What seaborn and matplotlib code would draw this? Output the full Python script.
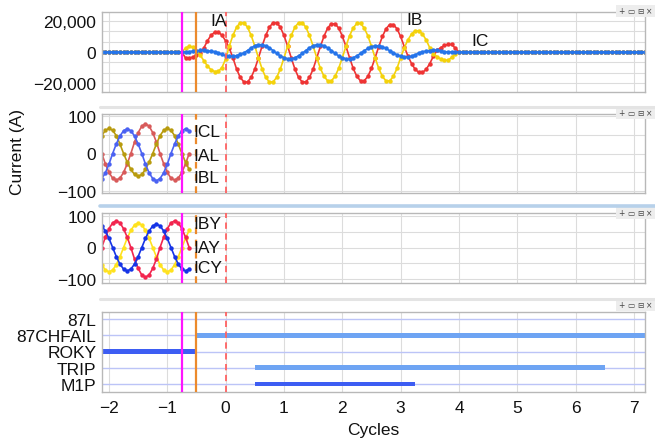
import numpy as np
import pandas as pd
import matplotlib
matplotlib.use("Agg")
import matplotlib.pyplot as plt
from matplotlib.lines import Line2D
from matplotlib.ticker import FuncFormatter, MultipleLocator
import seaborn as sns

# sampling of the event record (cycles)
SAMPLES_PER_CYCLE = 16
T_START = -2.125
N_SAMPLES = 150
FAULT_START = -0.75
X_RANGE = (-2.12, 7.19)

# event markers (cycles)
MARK_PICKUP = -0.75
MARK_ORANGE = -0.5
MARK_TRIGGER = 0.0

# local terminal currents during the fault window (A), one value per sample from FAULT_START
IA_FAULT = [
    0, -3900, -3900, -3300, -2200, -800,
    2500, 7200, 10800, 12750, 12750, 10800, 7200, 2500,
    -3800, -11000, -16400, -19300, -19300, -16400, -11000, -3800,
    3800, 10700, 16000, 18900, 18900, 16000, 10700, 3800,
    -3800, -11000, -16400, -19300, -19300, -16400, -11000, -3800,
    3600, 10300, 15500, 18200, 18200, 15500, 10300, 3600,
    -3700, -10600, -15800, -18600, -18600, -15800, -10600, -3700,
    3500, 10000, 15000, 17700, 17700, 15000, 10000, 3500,
    -2600, -7500, -11200, -13200, -13200, -11200, -7500, -2600,
    1000, 2800, 4200, 4900, 4900, 2500, 0,
]
IB_FAULT = [
    0, 2500, 3700, 3000, 800, -2000, -5500, -9000, -11500, -12600, -12400, -10000, -4500,
    3800, 10700, 16000, 18900, 18900, 16000, 10700, 3800,
    -3800, -11000, -16400, -19300, -19300, -16400, -11000, -3800,
    3800, 10700, 16000, 18900, 18900, 16000, 10700, 3800,
    -3700, -10600, -15800, -18600, -18600, -15800, -10600, -3700,
    3700, 10500, 15600, 18400, 18400, 15600, 10500, 3700,
    -3700, -10600, -15800, -18600, -18600, -15800, -10600, -3700,
    2700, 7800, 11600, 13700, 13700, 11600, 7800, 2700,
    -1000, -3000, -4500, -5300, -5300, -3500, -1200, 0,
]
IC_FAULT = [
    0, 0,
    200, 550, 800, 1000, 1000, 800, 550, 200,
    -550, -1600, -2300, -2750, -2750, -2300, -1600, -550,
    950, 2700, 4000, 4700, 4700, 4000, 2700, 950,
    -900, -2500, -3700, -4400, -4400, -3700, -2500, -900,
    950, 2700, 4000, 4700, 4700, 4000, 2700, 950,
    -900, -2500, -3700, -4400, -4400, -3700, -2500, -900,
    800, 2300, 3400, 4000, 4000, 3400, 2300, 800,
    -600, -1800, -2700, -3100, -3100, -2700, -1800, -600,
    200, 600, 900, 1100, 1100, 700, 300, 0, 0, 0, 0,
]

# channel L / channel Y currents, one value per sample from T_START
IAL = [0, -27, -50, -65, -70, -65, -50, -27, 0, 30, 55, 72, 78, 72, 55, 30,
       0, -27, -50, -65, -70, -65, -50, -27, 0]
IBL = [47, 61, 66, 61, 47, 25, 0, -23, -42, -55, -60, -55, -42, -23, 0, 25,
       47, 61, 66, 61, 47, 25, 0, -23, -42]
ICL = [-66, -51, -28, 0, 25, 46, 60, 65, 60, 46, 25, 0, -28, -51, -66, -72,
       -66, -51, -28, 0, 25, 46, 60, 65, 60]
IBY = [0, 33, 60, 79, 85, 79, 60, 33, 0, -37, -67, -88, -95, -88, -67, -37,
       0, 33, 60, 79, 85, 79, 60, 33, 0]
IAY = [-55, -72, -78, -72, -55, -30, 0, 30, 55, 72, 78, 72, 55, 30, 0, -30,
       -55, -72, -78, -72, -55, -30, 0, 30, 55]
ICY = [69, 53, 29, 0, -29, -53, -69, -75, -69, -53, -29, 0, 29, 53, 69, 75,
       69, 53, 29, 0, -29, -53, -69, -75, -69]

# digital elements
DIG_NAMES = ["87L", "87CHFAIL", "ROKY", "TRIP", "M1P"]
BAR_NAMES = ["87CHFAIL", "ROKY", "TRIP", "M1P"]
BAR_START = [-0.5, -2.12, 0.5, 0.5]
BAR_END = [7.19, -0.52, 6.5, 3.25]

FONT = 12.5
GRID = "#dcdcdc"
SPINE = "#b8b8b8"
INK = "#111111"

sns.set_theme(style="white")
plt.rcParams["font.family"] = ["Liberation Sans", "DejaVu Sans"]
plt.rcParams["axes.unicode_minus"] = True
for key in ("text.color", "axes.labelcolor", "xtick.color", "ytick.color"):
    plt.rcParams[key] = INK

t_all = T_START + np.arange(N_SAMPLES) / SAMPLES_PER_CYCLE
i0 = int(round((FAULT_START - T_START) * SAMPLES_PER_CYCLE))


def place(values):
    full = np.zeros(N_SAMPLES)
    full[i0:i0 + len(values)] = values
    return full


def long_frame(series):
    parts = []
    for name, vals in series.items():
        parts.append(pd.DataFrame({"t": t_all[:len(vals)], "value": vals, "signal": name}))
    return pd.concat(parts, ignore_index=True)


def label(ax, x, y, s):
    ax.text(x, y, s, fontsize=FONT, va="center", ha="left", zorder=6)


fig = plt.figure(figsize=(6.55, 4.39), dpi=100)
W, H = 655.0, 439.0


def rect(top, bottom, left=102, right=645):
    return [left / W, 1 - bottom / H, (right - left) / W, (bottom - top) / H]


ax1 = fig.add_axes(rect(13, 93))
ax2 = fig.add_axes(rect(115, 194))
ax3 = fig.add_axes(rect(213.5, 283.5))
ax4 = fig.add_axes(rect(312.5, 392.5))
axes = [ax1, ax2, ax3, ax4]

line_kw = dict(marker="o", markersize=3.2, markeredgewidth=0, linewidth=1.2,
               legend=False, estimator=None, sort=False, zorder=2)

# top: terminal currents
top = long_frame({"IA": place(IA_FAULT), "IB": place(IB_FAULT), "IC": place(IC_FAULT)})
sns.lineplot(data=top, x="t", y="value", hue="signal", hue_order=["IA", "IB", "IC"],
             palette={"IA": "#ee3434", "IB": "#f4d20c", "IC": "#2574ea"}, ax=ax1, **line_kw)
ax1.set_ylim(-25800, 25800)
ax1.set_yticks([-20000, 0, 20000])
ax1.yaxis.set_minor_locator(MultipleLocator(20000 / 3))
ax1.yaxis.set_major_formatter(FuncFormatter(lambda v, p: f"{v:,.0f}".replace("-", "\u2212")))
label(ax1, -0.27, 20000, "IA")
label(ax1, 3.10, 21000, "IB")
label(ax1, 4.22, 7600, "IC")

# channel L
chl = long_frame({"IAL": IAL, "IBL": IBL, "ICL": ICL})
sns.lineplot(data=chl, x="t", y="value", hue="signal", hue_order=["IAL", "IBL", "ICL"],
             palette={"IAL": "#d85a5a", "IBL": "#b89b0e", "ICL": "#4b62f2"}, ax=ax2, **line_kw)
ax2.set_ylim(-104, 104)
label(ax2, -0.56, 57, "ICL")
label(ax2, -0.56, -4, "IAL")
label(ax2, -0.56, -62, "IBL")

# channel Y
chy = long_frame({"IAY": IAY, "IBY": IBY, "ICY": ICY})
sns.lineplot(data=chy, x="t", y="value", hue="signal", hue_order=["IAY", "IBY", "ICY"],
             palette={"IAY": "#ffe21e", "IBY": "#f2254e", "ICY": "#1634e6"}, ax=ax3, **line_kw)
ax3.set_ylim(-112, 112)
label(ax3, -0.56, 78, "IBY")
label(ax3, -0.56, 0, "IAY")
label(ax3, -0.56, -64, "ICY")

for ax in (ax2, ax3):
    ax.set_yticks([-100, 0, 100])
    ax.yaxis.set_minor_locator(MultipleLocator(50))
    ax.yaxis.set_major_formatter(FuncFormatter(lambda v, p: f"{v:.0f}".replace("-", "\u2212")))

# digital elements
row = {n: i for i, n in enumerate(DIG_NAMES)}
bars = pd.DataFrame({"name": BAR_NAMES, "start": BAR_START, "end": BAR_END})
bars["row"] = bars["name"].map(row)
bar_col = {"87CHFAIL": "#6ea4f3", "ROKY": "#3d5df3", "TRIP": "#6ea4f3", "M1P": "#3d5df3"}
for r in range(len(DIG_NAMES)):
    ax4.axhline(r, color="#bcc4f7", lw=1.0, zorder=1)
for _, b in bars.iterrows():
    ax4.barh(b["row"], b["end"] - b["start"], left=b["start"], height=0.29,
             color=bar_col[b["name"]], edgecolor="none", zorder=2)
ax4.set_ylim(len(DIG_NAMES) - 0.53, -0.47)
ax4.set_yticks(range(len(DIG_NAMES)))
ax4.set_yticklabels(DIG_NAMES)
ax4.set_xticks(range(-2, 8))
ax4.xaxis.set_major_formatter(FuncFormatter(lambda v, p: f"{v:.0f}".replace("-", "\u2212")))
ax4.set_xlabel("Cycles", fontsize=FONT, labelpad=5)

for i, ax in enumerate(axes):
    ax.set_xlim(*X_RANGE)
    ax.set_xticks(range(-2, 8))
    ax.set_ylabel("")
    if i < 3:
        ax.set_xlabel("")
        ax.tick_params(axis="x", labelbottom=False)
        ax.grid(True, which="both", axis="y", color=GRID, lw=0.8, zorder=0)
    ax.grid(True, which="major", axis="x", color=GRID, lw=0.8, zorder=0)
    ax.set_axisbelow(True)
    ax.tick_params(which="both", length=0, labelsize=FONT, pad=4)
    ax.tick_params(axis="x", pad=6)
    for s in ax.spines.values():
        s.set_color(SPINE)
        s.set_linewidth(1.0)
    ax.axvline(MARK_PICKUP, color="#ff14ff", lw=1.6, zorder=4)
    ax.axvline(MARK_ORANGE, color="#ec8a2c", lw=1.6, zorder=4,
               ls="-" if i in (0, 3) else (0, (3, 2.5)))
    ax.axvline(MARK_TRIGGER, color="#ff6262", lw=1.3, ls=(0, (3.5, 2.5)), zorder=4)

fig.text(18 / W, 1 - 152 / H, "Current (A)", rotation=90, fontsize=FONT,
         ha="center", va="center")

# pane toolbars
for y_px in (12, 114, 214, 306):
    for k, g in enumerate(["+", "\u25ad", "\u229f", "\u00d7"]):
        fig.text((621 + k * 9.5) / W, 1 - y_px / H, g, fontsize=5.5, ha="center", va="center",
                 family="DejaVu Sans", color="#444444", zorder=1,
                 bbox=dict(boxstyle="square,pad=0.25", fc="#ededed", ec="none"))

# pane separators
for y_px, col, lw in [(108, "#e4e4e4", 2.2), (207, "#b7d1ea", 2.6), (300, "#e4e4e4", 2.2)]:
    fig.add_artist(Line2D([100 / W, 1.0], [1 - y_px / H] * 2, color=col, lw=lw, zorder=5))

fig.savefig("out.png", dpi=100)
